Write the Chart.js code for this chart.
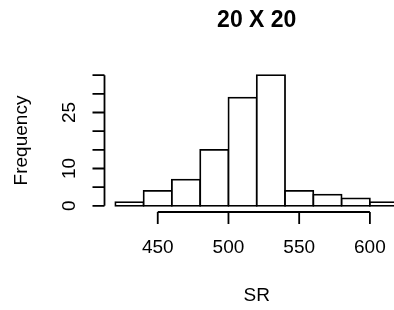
<!DOCTYPE html>
<html>
<head>
<meta charset="utf-8">
<script src="https://cdn.jsdelivr.net/npm/chart.js@4"></script>
<style>
html,body{margin:0;padding:0;background:#fff;}
#wrap{width:394px;height:310px;overflow:hidden;position:relative;}
canvas{display:block;}
</style>
</head>
<body>
<div id="wrap"><canvas id="c" width="410" height="310"></canvas></div>
<script>
// Histogram data (bins of width 20)
const binStarts = [420, 440, 460, 480, 500, 520, 540, 560, 580, 600];
const binWidth = 20;
const frequencies = [1, 4, 7, 15, 29, 35, 4, 3, 2, 1];
const xTicks = [450, 500, 550, 600];
const yTicks = [0, 5, 10, 15, 20, 25, 30, 35];
const yTickLabels = ['0', '', '10', '', '', '25', '', ''];
const titleText = '20 X 20';
const xTitle = 'SR';
const yTitle = 'Frequency';

const FONT = '"Liberation Sans", Arial, Helvetica, sans-serif';

const rAxes = {
  id: 'rAxes',
  afterDraw(chart) {
    const ctx = chart.ctx;
    const xs = chart.scales.x, ys = chart.scales.y;
    const area = chart.chartArea;
    ctx.save();
    ctx.strokeStyle = '#000';
    ctx.fillStyle = '#000';
    ctx.lineWidth = 1.8;
    // x axis
    const axY = area.bottom + 1;
    ctx.beginPath();
    ctx.moveTo(xs.getPixelForValue(xTicks[0]), axY);
    ctx.lineTo(xs.getPixelForValue(xTicks[xTicks.length - 1]), axY);
    xTicks.forEach(v => {
      const px = xs.getPixelForValue(v);
      ctx.moveTo(px, axY);
      ctx.lineTo(px, axY + 12);
    });
    ctx.stroke();
    ctx.font = '19px ' + FONT;
    ctx.textAlign = 'center';
    ctx.textBaseline = 'middle';
    xTicks.forEach(v => ctx.fillText(String(v), xs.getPixelForValue(v), 248));
    // y axis
    const axX = area.left + 0.5;
    ctx.beginPath();
    ctx.moveTo(axX, ys.getPixelForValue(yTicks[0]));
    ctx.lineTo(axX, ys.getPixelForValue(yTicks[yTicks.length - 1]));
    yTicks.forEach(v => {
      const py = ys.getPixelForValue(v);
      ctx.moveTo(axX, py);
      ctx.lineTo(axX - 12, py);
    });
    ctx.stroke();
    yTicks.forEach((v, i) => {
      if (!yTickLabels[i]) return;
      ctx.save();
      ctx.translate(70, ys.getPixelForValue(v));
      ctx.rotate(-Math.PI / 2);
      ctx.fillText(yTickLabels[i], 0, 0);
      ctx.restore();
    });
    // titles
    const cx = (area.left + area.right) / 2;
    ctx.fillText(xTitle, cx, 296);
    ctx.save();
    ctx.translate(22, (area.top + area.bottom) / 2);
    ctx.rotate(-Math.PI / 2);
    ctx.fillText(yTitle, 0, 0);
    ctx.restore();
    ctx.font = 'bold 23px ' + FONT;
    ctx.fillText(titleText, cx, 21);
    ctx.restore();
  }
};

new Chart(document.getElementById('c'), {
  type: 'bar',
  data: {
    datasets: [{
      data: binStarts.map((s, i) => ({ x: s + binWidth / 2, y: frequencies[i] })),
      backgroundColor: '#ffffff',
      borderColor: '#000000',
      borderWidth: 1.8,
      borderSkipped: false,
      inflateAmount: 0.9,
      barPercentage: 1,
      categoryPercentage: 1
    }]
  },
  options: {
    responsive: false,
    animation: false,
    devicePixelRatio: 1,
    layout: { padding: { left: 104, top: 70, right: 0.5, bottom: 99 } },
    plugins: { legend: { display: false }, tooltip: { enabled: false }, title: { display: false } },
    scales: {
      x: { type: 'linear', min: 412, max: 628, display: false, offset: false },
      y: { min: -1.4, max: 36.4, display: false }
    }
  },
  plugins: [rAxes]
});
</script>
</body>
</html>
